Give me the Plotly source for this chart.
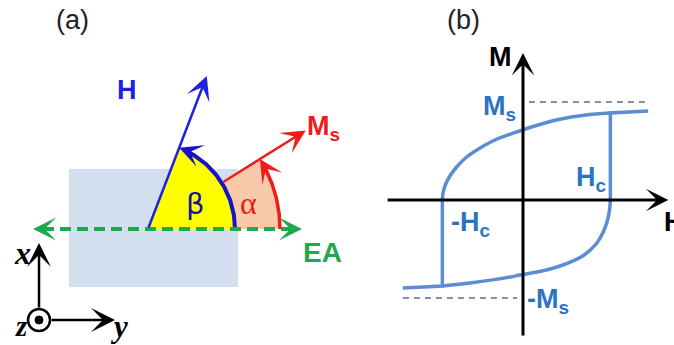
import numpy as np
import plotly.graph_objects as go

# ---------------- panel (a): field / magnetisation geometry ----------------
# local frame: vertex of the angles at the origin, 1 unit = 1 px, y pointing up
beta_deg = 69.0          # angle between H and the easy axis
alpha_deg = 32.0         # angle between Ms and the easy axis
beta_radius = 87
alpha_radius = 132
h_length = 164
ms_length = 186
ea_extent = [-115, 154]
film_x = [-79, 90]
film_y = [-58, 60]
triad_origin = [-109, -91]
triad_length = 77

# ---------------- panel (b): hysteresis loop (H in Hc, M in Ms) ----------------
upper_H = [-0.96, -0.95, -0.92, -0.87, -0.79, -0.67, -0.51, -0.31, -0.04, 0.18, 0.45, 0.75, 1.04]
upper_M = [0.00, 0.08, 0.16, 0.24, 0.33, 0.43, 0.52, 0.61, 0.69, 0.75, 0.81, 0.85, 0.87]
lower_H = [1.04, 1.03, 1.00, 0.95, 0.87, 0.71, 0.44, 0.17, -0.04, -0.15, -0.63, -0.96]
lower_M = [0.00, -0.10, -0.22, -0.33, -0.44, -0.56, -0.66, -0.72, -0.75, -0.77, -0.83, -0.86]
left_tail_H = [-1.43, -0.96, -0.96]
left_tail_M = [-0.88, -0.86, 0.00]
right_tail_H = [1.04, 1.04, 1.49]
right_tail_M = [0.00, 0.87, 0.89]
ms_level = 0.98
ms_dash_upper_H = [0.07, 1.49]
ms_dash_lower_H = [-1.43, -0.07]
h_axis = [-1.63, 1.73]
m_axis = [-1.37, 1.47]

BLUE = "#1e22e0"
BLUE_ARC = "#1414c8"
RED = "#f01c1c"
GREEN = "#1fa84c"
YELLOW = "#ffff00"
PEACH = "#f8caa9"
FILM = "#d3deee"
LOOP = "#5b8cd4"
LOOP_TXT = "#2c74c2"
SANS = "Liberation Sans, Arial, sans-serif"
SERIF = "Liberation Serif, Times New Roman, serif"


def arc(r, a0, a1, n=80):
    t = np.radians(np.linspace(a0, a1, n))
    return r * np.cos(t), r * np.sin(t)


def polar(r, a):
    t = np.radians(a)
    return r * np.cos(t), r * np.sin(t)


fig = go.Figure()

# sectors
ax_, ay_ = arc(alpha_radius, 0, alpha_deg)
fig.add_trace(go.Scatter(x=np.r_[0, ax_, 0], y=np.r_[0, ay_, 0], fill="toself",
                         fillcolor=PEACH, line=dict(width=0), mode="lines",
                         hoverinfo="skip", showlegend=False))
bx_, by_ = arc(beta_radius, 0, beta_deg)
fig.add_trace(go.Scatter(x=np.r_[0, bx_, 0], y=np.r_[0, by_, 0], fill="toself",
                         fillcolor=YELLOW, line=dict(width=0), mode="lines",
                         hoverinfo="skip", showlegend=False))

# angle arcs
bx2, by2 = arc(beta_radius, 0, beta_deg - 7)
fig.add_trace(go.Scatter(x=bx2, y=by2, mode="lines", line=dict(color=BLUE_ARC, width=4),
                         hoverinfo="skip", showlegend=False))
ax2, ay2 = arc(alpha_radius, 0, alpha_deg - 5)
fig.add_trace(go.Scatter(x=ax2, y=ay2, mode="lines", line=dict(color=RED, width=3.5),
                         hoverinfo="skip", showlegend=False))

# easy axis, dashed
fig.add_trace(go.Scatter(x=[ea_extent[0] + 10, ea_extent[1] - 10], y=[0, 0], mode="lines",
                         line=dict(color=GREEN, width=4, dash="11px,6px"),
                         hoverinfo="skip", showlegend=False))

annotations = []


def arrow(head, tail, color, width, size, xref="x", yref="y", head_style=3):
    annotations.append(dict(x=head[0], y=head[1], ax=tail[0], ay=tail[1],
                            xref=xref, yref=yref, axref=xref, ayref=yref,
                            text="", showarrow=True, arrowhead=head_style,
                            arrowsize=size, arrowwidth=width, arrowcolor=color,
                            standoff=0, startstandoff=0))


def label(x, y, text, size, color, family=SANS, xref="x", yref="y", xanchor="center"):
    annotations.append(dict(x=x, y=y, xref=xref, yref=yref, text=text, showarrow=False,
                            xanchor=xanchor, yanchor="middle", borderpad=0,
                            font=dict(family=family, size=size, color=color)))


# H and Ms vectors
arrow(polar(h_length, beta_deg), (0, 0), BLUE, 2.5, 1.6)
arrow(polar(ms_length, alpha_deg), polar(beta_radius, alpha_deg), RED, 2.5, 1.6)

# arc arrowheads (tangent direction, counter-clockwise)
for r, a, col, w in [(beta_radius, beta_deg, BLUE_ARC, 3.5), (alpha_radius, alpha_deg, RED, 3.5)]:
    tip = polar(r, a)
    t = np.radians(a)
    tail = (tip[0] + 12 * np.sin(t), tip[1] - 12 * np.cos(t))
    arrow(tip, tail, col, w, 1.1)

# easy-axis heads
arrow((ea_extent[1], 0), (ea_extent[1] - 14, 0), GREEN, 3.5, 1.1)
arrow((ea_extent[0], 0), (ea_extent[0] + 14, 0), GREEN, 3.5, 1.1)

# coordinate triad
ox, oy = triad_origin
arrow((ox, oy + triad_length), (ox, oy + 11), "black", 2.5, 1.6)
arrow((ox + triad_length - 1, oy), (ox + 11, oy), "black", 2.5, 1.6)

label(-76, 209, "(a)", 27, "#222222")
label(47, 25, "β", 29, "#1414a0", family="DejaVu Sans")
label(100, 26, "α", 32, RED, family=SERIF)
label(-21, 139, "<b>H</b>", 27, BLUE)
label(158, 101, "<b>M<sub>s</sub></b>", 27, RED, xanchor="left")
label(174, -23, "<b>EA</b>", 28, GREEN)
label(-126, -24, "<b><i>x</i></b>", 32, "black", family=SERIF)
label(-127, -97, "<b><i>z</i></b>", 29, "black", family=SERIF)
label(-29, -97, "<b><i>y</i></b>", 31, "black", family=SERIF)

shapes = [
    dict(type="rect", xref="x", yref="y", x0=film_x[0], x1=film_x[1], y0=film_y[0], y1=film_y[1],
         fillcolor=FILM, line=dict(width=0), layer="below"),
    dict(type="circle", xref="x", yref="y", x0=ox - 11, x1=ox + 11, y0=oy - 11, y1=oy + 11,
         line=dict(color="black", width=2.5), fillcolor="white"),
    dict(type="circle", xref="x", yref="y", x0=ox - 4, x1=ox + 4, y0=oy - 4, y1=oy + 4,
         line=dict(color="black", width=1), fillcolor="black"),
]

# ---------------- panel (b) ----------------
for hx, my in [(ms_dash_upper_H, ms_level), (ms_dash_lower_H, -ms_level)]:
    fig.add_trace(go.Scatter(x=hx, y=[my, my], xaxis="x2", yaxis="y2", mode="lines",
                             line=dict(color="#8292ad", width=2, dash="6px,5px"),
                             hoverinfo="skip", showlegend=False))

arrow((h_axis[1], 0), (h_axis[0], 0), "black", 3, 1.25, xref="x2", yref="y2")
arrow((0, m_axis[1]), (0, m_axis[0]), "black", 3, 1.25, xref="x2", yref="y2")

for hx, my, shape in [(upper_H, upper_M, "spline"), (lower_H, lower_M, "spline"),
                      (left_tail_H, left_tail_M, "linear"), (right_tail_H, right_tail_M, "linear")]:
    fig.add_trace(go.Scatter(x=hx, y=my, xaxis="x2", yaxis="y2", mode="lines",
                             line=dict(color=LOOP, width=3.5, shape=shape, smoothing=0.8),
                             hoverinfo="skip", showlegend=False))

label(-0.71, 1.80, "(b)", 27, "#222222", xref="x2", yref="y2")
label(-0.27, 1.43, "<b>M</b>", 27, "black", xref="x2", yref="y2")
label(1.67, -0.22, "<b>H</b>", 27, "black", xref="x2", yref="y2", xanchor="left")
label(-0.07, 0.92, "<b>M<sub>s</sub></b>", 27, LOOP_TXT, xref="x2", yref="y2", xanchor="right")
label(1.00, 0.21, "<b>H<sub>c</sub></b>", 27, LOOP_TXT, xref="x2", yref="y2", xanchor="right")
label(-0.87, -0.24, "<b>-H<sub>c</sub></b>", 27, LOOP_TXT, xref="x2", yref="y2", xanchor="left")
label(0.04, -1.01, "<b>-M<sub>s</sub></b>", 27, LOOP_TXT, xref="x2", yref="y2", xanchor="left")

hidden = dict(visible=False, showgrid=False, zeroline=False, fixedrange=True)
fig.update_layout(
    width=674, height=345, margin=dict(l=0, r=0, t=0, b=0),
    paper_bgcolor="white", plot_bgcolor="white",
    xaxis=dict(range=[-148, 526], domain=[0, 1], anchor="y", **hidden),
    yaxis=dict(range=[-116, 229], domain=[0, 1], anchor="x", **hidden),
    xaxis2=dict(range=[-523 / 84, 151 / 84], overlaying="x", anchor="y2", **hidden),
    yaxis2=dict(range=[-1.45, 2.0], overlaying="y", anchor="x2", **hidden),
    annotations=annotations, shapes=shapes, showlegend=False,
)

fig.write_html("out.html")
